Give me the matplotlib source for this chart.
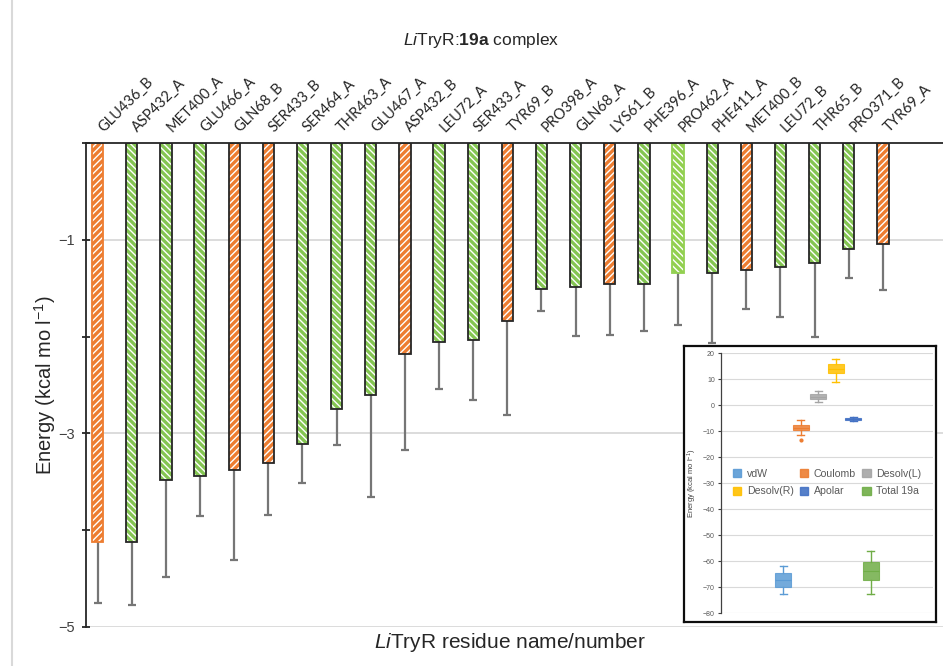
import numpy as np
import matplotlib
matplotlib.use('Agg')
import matplotlib.pyplot as plt
import matplotlib.transforms as mtransforms
from matplotlib.patches import Patch
from matplotlib.lines import Line2D

# ---------------- data ----------------
residues = ['GLU436_B', 'ASP432_A', 'MET400_A', 'GLU466_A', 'GLN68_B', 'SER433_B',
            'SER464_A', 'THR463_A', 'GLU467_A', 'ASP432_B', 'LEU72_A', 'SER433_A',
            'TYR69_B', 'PRO398_A', 'GLN68_A', 'LYS61_B', 'PHE396_A', 'PRO462_A',
            'PHE411_A', 'MET400_B', 'LEU72_B', 'THR65_B', 'PRO371_B', 'TYR69_A']
energy = [-4.12, -4.12, -3.48, -3.44, -3.38, -3.31, -3.11, -2.75, -2.60, -2.18,
          -2.06, -2.03, -1.84, -1.51, -1.49, -1.46, -1.46, -1.34, -1.34, -1.31,
          -1.28, -1.24, -1.10, -1.04]
error = [0.63, 0.65, 1.00, 0.41, 0.93, 0.53, 0.40, 0.37, 1.06, 0.99,
         0.48, 0.62, 0.97, 0.23, 0.50, 0.52, 0.48, 0.54, 0.73, 0.40,
         0.52, 0.76, 0.29, 0.48]
kind = ['O', 'G', 'G', 'G', 'O', 'O', 'G', 'G', 'G', 'O', 'G', 'G',
        'O', 'G', 'G', 'O', 'G', 'L', 'G', 'O', 'G', 'G', 'G', 'O']
outlined = [False] + [True] * 16 + [False] + [True] * 6

inset_cats = ['vdW', 'Coulomb', 'Desolv(L)', 'Desolv(R)', 'Apolar', 'Total 19a']
inset_q1 = [-70.0, -9.8, 2.3, 12.3, -5.6, -67.2]
inset_med = [-67.2, -8.7, 3.2, 14.0, -5.3, -63.7]
inset_q3 = [-64.6, -7.8, 4.2, 15.9, -5.0, -60.5]
inset_lo = [-72.6, -11.4, 1.2, 8.7, -6.1, -72.6]
inset_hi = [-61.8, -5.6, 5.2, 17.7, -4.7, -56.3]
inset_fliers = [[], [-13.3], [], [], [], []]
inset_colors = ['#5B9BD5', '#ED7D31', '#A5A5A5', '#FFC000', '#4472C4', '#70AD47']

# ---------------- style ----------------
plt.rcParams['font.family'] = ['Liberation Sans', 'DejaVu Sans']
plt.rcParams['mathtext.fontset'] = 'custom'
plt.rcParams['mathtext.rm'] = 'Liberation Sans'
plt.rcParams['mathtext.it'] = 'Liberation Sans:italic'
plt.rcParams['mathtext.bf'] = 'Liberation Sans:bold'
plt.rcParams['hatch.linewidth'] = 1.0

W, H = 943, 666
fig = plt.figure(figsize=(W / 100, H / 100), dpi=100)
fig.patch.set_facecolor('white')

def fx(px):
    return px / W

def fy(py):
    return 1 - py / H

ax = fig.add_axes([fx(86), fy(627), fx(943 - 86), (627 - 143) / H])

col_map = {'O': '#ED7D31', 'G': '#84C552', 'L': '#92D050'}
hatch_map = {'O': '/////', 'G': '\\\\\\\\\\', 'L': '\\\\\\\\\\'}
x = np.arange(len(residues))
width = 0.33

for i in range(len(residues)):
    c = col_map[kind[i]]
    ax.bar(x[i], energy[i], width=width, color=c, edgecolor='white',
           hatch=hatch_map[kind[i]], linewidth=0, zorder=3)
    ec = '#262626' if outlined[i] else c
    ax.bar(x[i], energy[i], width=width, fill=False, edgecolor=ec,
           linewidth=1.3, zorder=4)

vals = np.array(energy)
errs = np.array(error)
eb = ax.errorbar(x, vals, yerr=[errs, np.zeros_like(errs)], fmt='none',
                 ecolor='#767676', elinewidth=1.6, capsize=3, capthick=1.6,
                 zorder=2)
for cl in eb[1]:
    if np.allclose(cl.get_ydata(), vals):
        cl.set_visible(False)

ax.set_ylim(-5, 0)
ax.set_xlim(-0.34, 24.76)
ax.set_yticks([-1, -3, -5])
ax.set_yticks([0, -2, -4], minor=True)
ax.yaxis.grid(True, which='major', color='#D9D9D9', linewidth=1.3, zorder=0)
ax.set_axisbelow(True)
ax.tick_params(axis='y', which='both', direction='inout', length=6, width=1.3,
               color='#262626', labelsize=10.5, labelcolor='#404040', pad=5)

ax.xaxis.tick_top()
ax.set_xticks(x)
ax.set_xticklabels(residues, rotation=45, ha='left', va='bottom',
                   rotation_mode='anchor', fontsize=10.5, color='#262626',
                   family=['Lato', 'DejaVu Sans'])
ax.tick_params(axis='x', which='both', length=0, pad=6)
shift = mtransforms.ScaledTranslation(8 / 100, 0, fig.dpi_scale_trans)
for lab in ax.get_xticklabels():
    lab.set_transform(lab.get_transform() + shift)

for s in ['right', 'bottom']:
    ax.spines[s].set_visible(False)
for s in ['top', 'left']:
    ax.spines[s].set_color('#262626')
    ax.spines[s].set_linewidth(1.3)
ax.spines['top'].set_zorder(5)

ax.set_ylabel('Energy (kcal mo l$^{\\mathrm{-1}}$)', fontsize=14.5, color='#262626',
              labelpad=0)
fig.text(fx(510), fy(643), '$\\mathit{Li}$TryR residue name/number', ha='center',
         va='center', fontsize=15, color='#262626')
fig.text(fx(481), fy(40), '$\\mathit{Li}$TryR:$\\mathbf{19a}$ complex', ha='center',
         va='center', fontsize=12.5, color='#262626')

# chart-area border line on the left
fig.add_artist(Line2D([fx(12), fx(12)], [0, 1], color='#D9D9D9', linewidth=1.5))

# ---------------- inset ----------------
box_ax = fig.add_axes([fx(684), fy(622), fx(936 - 684), (622 - 346) / H], zorder=10)
box_ax.set_xticks([])
box_ax.set_yticks([])
box_ax.set_facecolor('white')
for s in box_ax.spines.values():
    s.set_color('#0D0D0D')
    s.set_linewidth(1.6)

iax = fig.add_axes([fx(721), fy(613), fx(933 - 721), (613 - 353) / H], zorder=11)
iax.patch.set_alpha(0)
stats = []
for i in range(len(inset_cats)):
    stats.append(dict(med=inset_med[i], q1=inset_q1[i], q3=inset_q3[i],
                      whislo=inset_lo[i], whishi=inset_hi[i],
                      fliers=inset_fliers[i], label=inset_cats[i]))
pos = np.arange(len(inset_cats))
bp = iax.bxp(stats, positions=pos, widths=0.92, patch_artist=True,
             showfliers=True, manage_ticks=False)
for i, c in enumerate(inset_colors):
    bp['boxes'][i].set_facecolor(c)
    bp['boxes'][i].set_alpha(0.85)
    bp['boxes'][i].set_edgecolor(c)
    bp['boxes'][i].set_linewidth(0.8)
    bp['medians'][i].set_color(matplotlib.colors.to_rgba(c, 1.0))
    bp['medians'][i].set_linewidth(0.8)
    for w in bp['whiskers'][2 * i:2 * i + 2]:
        w.set_color(c)
        w.set_linewidth(1.0)
    for cp in bp['caps'][2 * i:2 * i + 2]:
        cp.set_color(c)
        cp.set_linewidth(1.0)
        cp.set_xdata([pos[i] - 0.2, pos[i] + 0.2])
    bp['fliers'][i].set_marker('o')
    bp['fliers'][i].set_markersize(2)
    bp['fliers'][i].set_markerfacecolor(c)
    bp['fliers'][i].set_markeredgecolor(c)

iax.set_xlim(2.5 - 6.06, 2.5 + 6.06)
iax.set_ylim(-80, 20)
iax.set_yticks(np.arange(-80, 21, 10))
iax.set_xticks([])
iax.yaxis.grid(True, color='#D9D9D9', linewidth=0.8)
iax.set_axisbelow(True)
iax.tick_params(axis='y', direction='out', length=2.5, width=0.8, color='#404040',
                labelsize=5, labelcolor='#595959', pad=2)
for s in ['top', 'right', 'bottom']:
    iax.spines[s].set_visible(False)
iax.spines['left'].set_color('#404040')
iax.spines['left'].set_linewidth(0.9)
iax.set_ylabel('Energy (kcal mo l$^{\\mathrm{-1}}$)', fontsize=5.5, color='#404040',
               labelpad=3)

handles = [Patch(facecolor=c, edgecolor=c, alpha=0.9) for c in inset_colors]
order = [0, 3, 1, 4, 2, 5]
leg = iax.legend([handles[k] for k in order], [inset_cats[k] for k in order],
                 ncol=3, loc='upper left', bbox_to_anchor=(fx(733), fy(469)),
                 bbox_transform=fig.transFigure, frameon=False, fontsize=7.6,
                 handlelength=0.8, handleheight=0.8, handletextpad=0.5,
                 columnspacing=0.6, labelspacing=0.7, borderpad=0,
                 borderaxespad=0, labelcolor='#595959')

fig.savefig('out.png', dpi=100, facecolor='white')
